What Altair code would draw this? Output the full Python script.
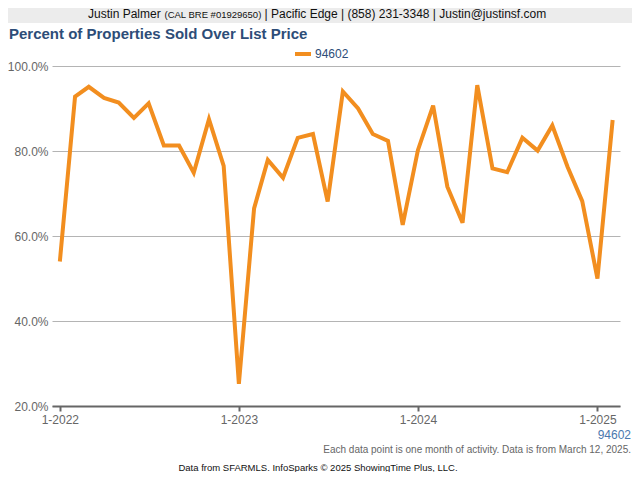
import altair as alt
import pandas as pd

# ---- data ----
months = [f"{y}-{m:02d}-01" for y in (2022, 2023, 2024) for m in range(1, 13)] + ["2025-01-01", "2025-02-01"]
pct_over_list = [54.0, 92.8, 95.1, 92.5, 91.4, 87.8, 91.2, 81.3, 81.3, 74.9, 87.5, 76.5,
                 25.2, 66.5, 77.9, 73.7, 83.1, 84.0, 68.1, 94.0, 90.0, 84.0, 82.4, 62.6,
                 80.2, 90.7, 71.6, 63.1, 95.5, 75.9, 75.0, 83.1, 80.1, 86.0, 76.3, 68.2,
                 50.0, 87.3]
series_name = "94602"
y_ticks = [20, 40, 60, 80, 100]
x_tick_years = [2022, 2023, 2024, 2025]

df = pd.DataFrame({"date": months, "value": pct_over_list, "zip": series_name})

FONT = "Liberation Sans"
ORANGE = "#f28e1f"
GRAY = "#666666"

def text_layer(txt, x, y, size, color, align="left", weight="normal", baseline="alphabetic"):
    return alt.Chart(pd.DataFrame({"t": [txt]})).mark_text(
        align=align, baseline=baseline, fontSize=size, font=FONT, color=color, fontWeight=weight
    ).encode(x=alt.value(x), y=alt.value(y), text="t:N")

dummy = pd.DataFrame({"a": [0]})

band = alt.Chart(dummy).mark_rect(color="#ececec").encode(
    x=alt.value(-44), x2=alt.value(580), y=alt.value(-58), y2=alt.value(-43)
)

h1 = text_layer("Justin Palmer", 36, -48.3, 12, "#111111")
h2 = text_layer("(CAL BRE #01929650)", 112.5, -48.3, 9.5, "#111111")
h3 = text_layer("| Pacific Edge | (858) 231-3348 | Justin@justinsf.com", 212.5, -48.3, 12, "#111111")

title = text_layer("Percent of Properties Sold Over List Price", -43, -27, 15, "#2d4d78", weight="bold")

leg_sym = alt.Chart(dummy).mark_rule(color=ORANGE, strokeWidth=4).encode(
    x=alt.value(243), x2=alt.value(259), y=alt.value(-12)
)
leg_txt = text_layer(series_name, 263, -12, 12, "#2d4d78", baseline="middle")

line = alt.Chart(df).mark_line(color=ORANGE, strokeWidth=4).encode(
    x=alt.X(
        "date:T",
        scale=alt.Scale(
            type="utc",
            domain=[alt.DateTime(year=2021, month=12, date=16, utc=True),
                    alt.DateTime(year=2025, month=2, date=16, utc=True)],
        ),
        axis=alt.Axis(
            values=[alt.DateTime(year=yy, month=1, date=1, utc=True) for yy in x_tick_years],
            format="%-m-%Y", title=None, grid=False,
            domainColor=GRAY, domainWidth=2, tickColor=GRAY, tickWidth=2, tickSize=5,
            labelColor=GRAY, labelFontSize=12, labelFont=FONT, labelPadding=3,
        ),
    ),
    y=alt.Y(
        "value:Q",
        scale=alt.Scale(domain=[20, 100], nice=False, zero=False),
        axis=alt.Axis(
            values=y_ticks, labelExpr="format(datum.value, '.1f') + '%'", title=None,
            domain=False, ticks=False, labelPadding=4, gridColor="#b4b4b4", gridWidth=1,
            labelColor=GRAY, labelFontSize=12, labelFont=FONT,
        ),
    ),
)

f_zip = text_layer(series_name, 579, 373, 12, "#4a78ae", align="right")
f1 = text_layer("Each data point is one month of activity. Data is from March 12, 2025.", 579, 386.5, 10, GRAY, align="right")
f2 = text_layer("Data from SFARMLS. InfoSparks \u00a9 2025 ShowingTime Plus, LLC.", 266, 405, 9.5, "#111111", align="center")

chart = alt.layer(band, h1, h2, h3, title, leg_sym, leg_txt, line, f_zip, f1, f2).properties(
    width=568, height=340,
    autosize=alt.AutoSizeParams(type="none"),
    padding={"left": 44, "top": 58, "right": 12, "bottom": 66},
    background="white",
).configure_view(stroke=None)

chart.save("out.html", embed_options={"renderer": "svg", "actions": False})
